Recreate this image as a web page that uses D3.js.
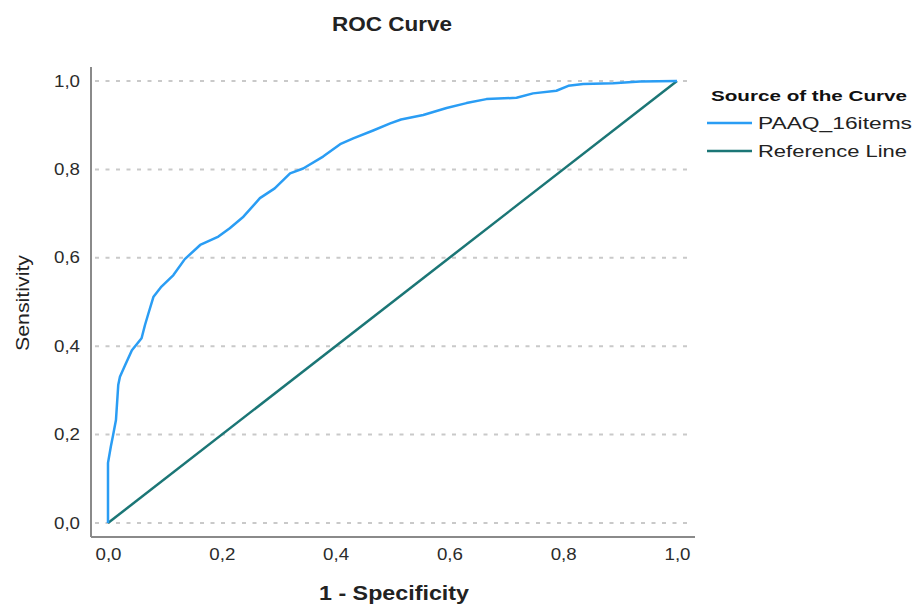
<!DOCTYPE html>
<html>
<head>
<meta charset="utf-8">
<script src="https://cdn.jsdelivr.net/npm/d3@7"></script>
<style>
  body { margin: 0; background: #fff; }
  text { font-family: "Liberation Sans", Arial, sans-serif; }
</style>
</head>
<body>
<div id="chart"></div>
<script>
// ROC curve points (1 - specificity, sensitivity)
var fpr = [0, 0, 0.005, 0.009, 0.014, 0.018, 0.021, 0.030, 0.042, 0.059, 0.065, 0.071, 0.080,
  0.094, 0.115, 0.135, 0.162, 0.194, 0.214, 0.238, 0.267, 0.293, 0.320, 0.343, 0.378,
  0.408, 0.431, 0.466, 0.496, 0.515, 0.554, 0.595, 0.630, 0.665, 0.718, 0.747, 0.788,
  0.809, 0.835, 0.888, 0.935, 1];
var tpr = [0, 0.136, 0.173, 0.199, 0.233, 0.312, 0.331, 0.357, 0.391, 0.418, 0.448, 0.474, 0.512,
  0.535, 0.561, 0.597, 0.629, 0.648, 0.667, 0.693, 0.735, 0.757, 0.791, 0.802, 0.829,
  0.857, 0.870, 0.888, 0.904, 0.913, 0.923, 0.939, 0.950, 0.959, 0.962, 0.972, 0.978,
  0.989, 0.993, 0.995, 0.999, 1];
var refX = [0, 1];
var refY = [0, 1];
var ticks = [0, 0.2, 0.4, 0.6, 0.8, 1.0];
var seriesNames = ["PAAQ_16items", "Reference Line"];
var seriesColors = ["#2a9df4", "#1b7676"];

var width = 919, height = 604;

var svg = d3.select("#chart").append("svg")
  .attr("width", width)
  .attr("height", height);

// plot box edges
var boxLeft = 91, boxRight = 695, boxTop = 67, boxBottom = 537;

var x = d3.scaleLinear().domain([0, 1]).range([108, 677]);
var y = d3.scaleLinear().domain([0, 1]).range([523, 81]);

var fmt = function(d) { return d3.format(".1f")(d).replace(".", ","); };

// dotted gridlines
svg.append("g").selectAll("line")
  .data(ticks)
  .enter().append("line")
  .attr("x1", boxLeft + 4)
  .attr("x2", boxRight - 2)
  .attr("y1", function(d) { return y(d); })
  .attr("y2", function(d) { return y(d); })
  .attr("stroke", "#c9c9c9")
  .attr("stroke-width", 2)
  .attr("stroke-dasharray", "4,6.5");

// axes
var yAxis = d3.axisLeft(y).tickValues(ticks).tickFormat(fmt).tickSize(0).tickPadding(11);
var xAxis = d3.axisBottom(x).tickValues(ticks).tickFormat(fmt).tickSize(0).tickPadding(12);

var gy = svg.append("g").attr("transform", "translate(" + boxLeft + ",0)").call(yAxis);
var gx = svg.append("g").attr("transform", "translate(0," + boxBottom + ")").call(xAxis);
[gx, gy].forEach(function(g) {
  g.select(".domain").remove();
  g.selectAll("text")
    .attr("font-size", 16)
    .attr("fill", "#2b2b2b")
    .attr("textLength", 26)
    .attr("lengthAdjust", "spacingAndGlyphs")
    .style("font-family", "'Liberation Sans', Arial, sans-serif");
});

svg.append("line")
  .attr("x1", boxLeft).attr("x2", boxLeft)
  .attr("y1", boxTop).attr("y2", boxBottom)
  .attr("stroke", "#8a8a8a").attr("stroke-width", 2);
svg.append("line")
  .attr("x1", boxLeft).attr("x2", boxRight)
  .attr("y1", boxBottom).attr("y2", boxBottom)
  .attr("stroke", "#8a8a8a").attr("stroke-width", 2);

// lines
var line = d3.line()
  .x(function(d) { return x(d[0]); })
  .y(function(d) { return y(d[1]); });

svg.append("path")
  .datum(d3.zip(refX, refY))
  .attr("d", line)
  .attr("fill", "none")
  .attr("stroke", seriesColors[1])
  .attr("stroke-width", 2.5);

svg.append("path")
  .datum(d3.zip(fpr, tpr))
  .attr("d", line)
  .attr("fill", "none")
  .attr("stroke", seriesColors[0])
  .attr("stroke-width", 2.5)
  .attr("stroke-linejoin", "round");

// titles
svg.append("text")
  .attr("x", 392).attr("y", 31)
  .attr("text-anchor", "middle")
  .attr("font-size", 20)
  .attr("font-weight", "bold")
  .attr("fill", "#222")
  .attr("textLength", 120)
  .attr("lengthAdjust", "spacingAndGlyphs")
  .text("ROC Curve");

svg.append("text")
  .attr("x", 394).attr("y", 600)
  .attr("text-anchor", "middle")
  .attr("font-size", 20)
  .attr("font-weight", "bold")
  .attr("fill", "#222")
  .attr("textLength", 150)
  .attr("lengthAdjust", "spacingAndGlyphs")
  .text("1 - Specificity");

svg.append("text")
  .attr("transform", "translate(29,303) rotate(-90)")
  .attr("text-anchor", "middle")
  .attr("font-size", 18)
  .attr("fill", "#222")
  .attr("textLength", 96)
  .attr("lengthAdjust", "spacingAndGlyphs")
  .text("Sensitivity");

// legend
var legend = svg.append("g").attr("transform", "translate(711,0)");
legend.append("text")
  .attr("x", 0).attr("y", 101)
  .attr("font-size", 15)
  .attr("font-weight", "bold")
  .attr("fill", "#111")
  .attr("textLength", 196)
  .attr("lengthAdjust", "spacingAndGlyphs")
  .text("Source of the Curve");

var legendLens = [154, 149];
var items = legend.selectAll("g.item")
  .data(seriesNames)
  .enter().append("g")
  .attr("class", "item")
  .attr("transform", function(d, i) { return "translate(0," + (123 + i * 28) + ")"; });
items.append("line")
  .attr("x1", -4).attr("x2", 41)
  .attr("y1", 0).attr("y2", 0)
  .attr("stroke", function(d, i) { return seriesColors[i]; })
  .attr("stroke-width", 2.5);
items.append("text")
  .attr("x", 47).attr("y", 6)
  .attr("font-size", 17)
  .attr("fill", "#222")
  .attr("textLength", function(d, i) { return legendLens[i]; })
  .attr("lengthAdjust", "spacingAndGlyphs")
  .text(function(d) { return d; });
</script>
</body>
</html>
